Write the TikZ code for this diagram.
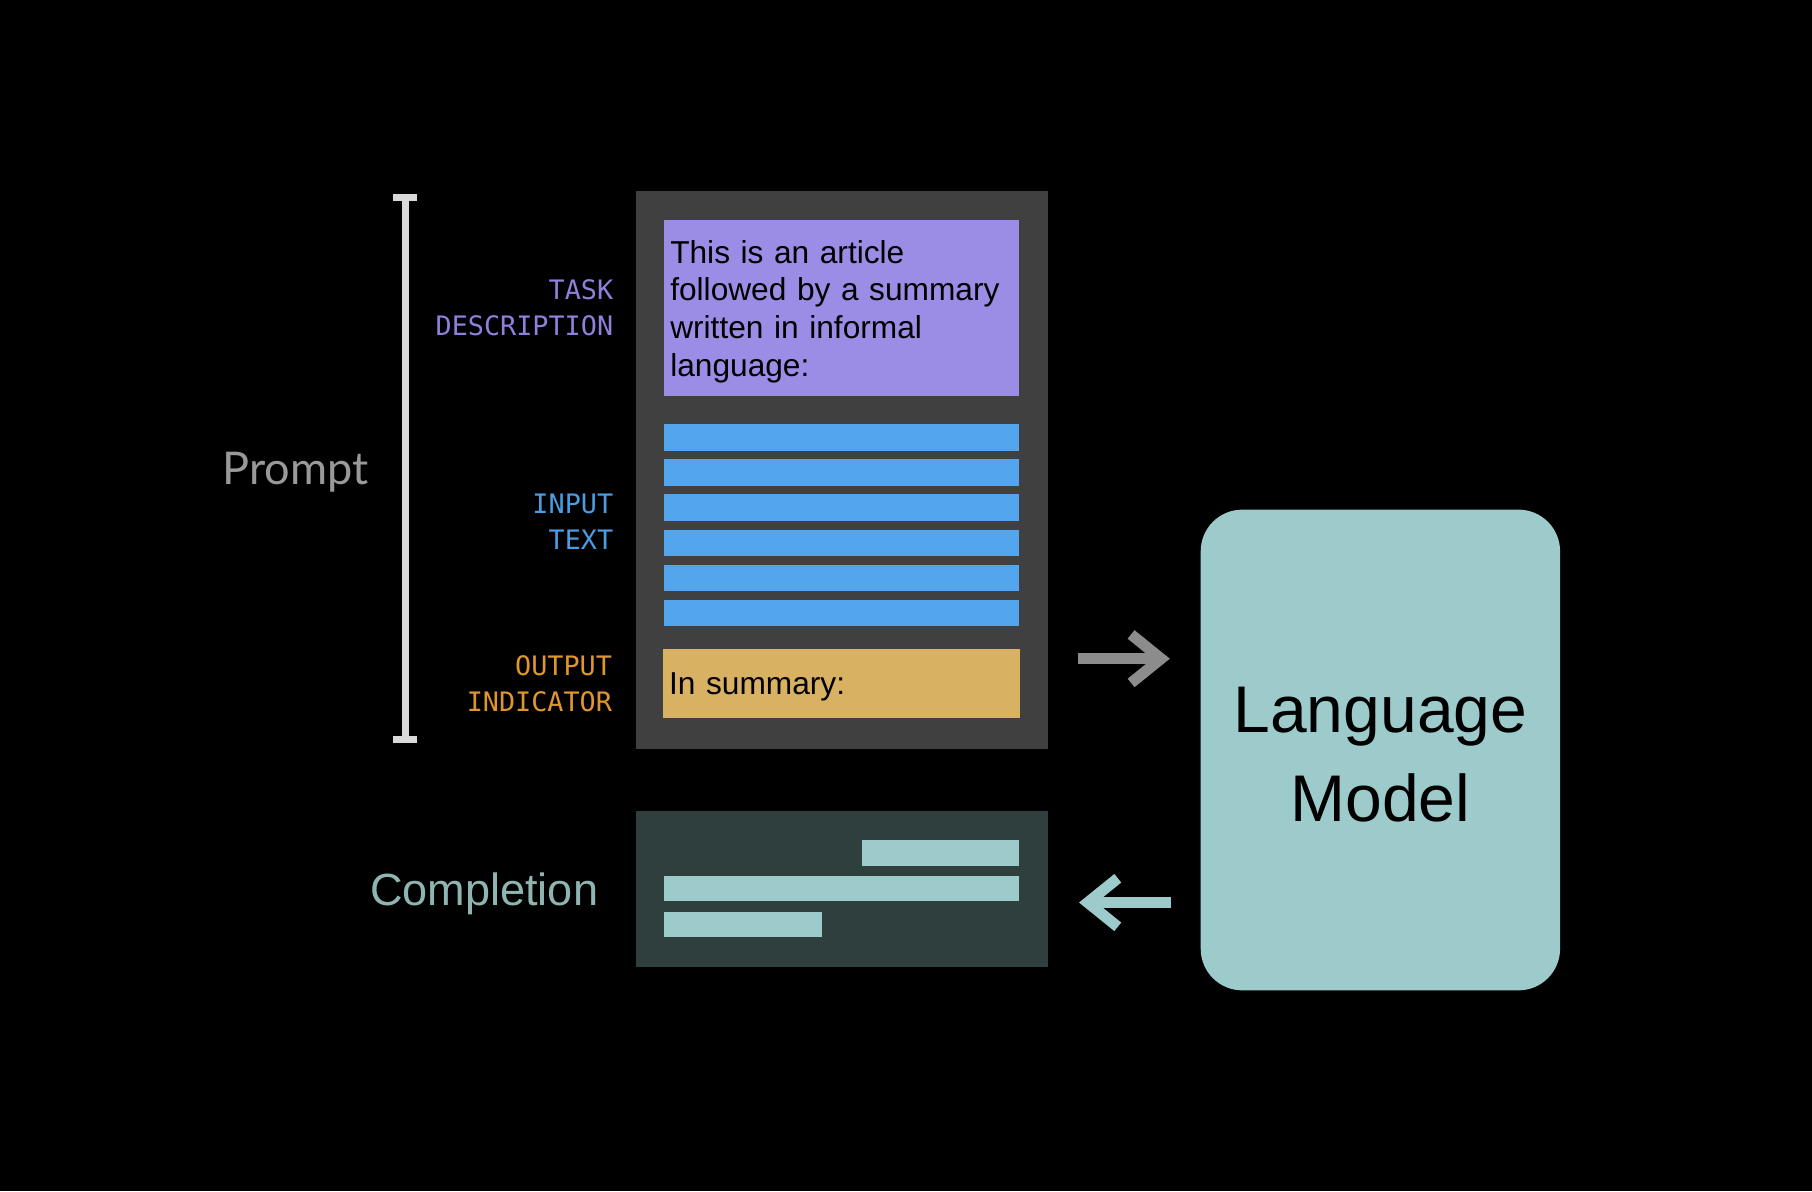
\documentclass[tikz,border=0pt]{standalone}
\usepackage{fontspec}
\setmainfont{Liberation Sans}
\newfontfamily\monofont{DejaVu Sans Mono}
\newfontfamily\promptfont{Lato}
\usepackage{tikz}
\usetikzlibrary{arrows.meta,positioning,calc}

\definecolor{boxgray}{HTML}{404040}
\definecolor{taskpurple}{HTML}{9B8DE5}
\definecolor{inblue}{HTML}{53A6EE}
\definecolor{outgold}{HTML}{D8B163}
\definecolor{compdark}{HTML}{2F3F3E}
\definecolor{lmteal}{HTML}{9DCBCB}
\definecolor{bracketgray}{HTML}{D9D9D9}
\definecolor{promptgray}{HTML}{999999}
\definecolor{tasklbl}{HTML}{8E80DB}
\definecolor{inlbl}{HTML}{4A9DE2}
\definecolor{outlbl}{HTML}{E0962E}
\definecolor{arrowgray}{HTML}{8C8C8C}
\definecolor{comptext}{HTML}{8FB5B2}

\begin{document}
\begin{tikzpicture}[
  panel/.style={rectangle, inner sep=0pt},
  textbox/.style={rectangle, inner xsep=0.05cm, inner ysep=0pt, text width=2.97cm, align=left, font=\fontsize{7.8}{9.3}\selectfont},
  bar/.style={rectangle, inner sep=0pt, minimum height=0.23cm},
  lbl/.style={inner sep=0pt, align=right, font=\monofont\fontsize{6.6}{8.8}\selectfont},
  side/.style={inner sep=0pt, text depth=0pt},
  arr/.style={-{Straight Barb[length=2.6mm, width=4.2mm]}, line width=2.7pt, shorten <=0.25cm, shorten >=0.26cm}
]
  \fill[black] (0,0) rectangle (15.68,-10.31);

  \node[panel, fill=boxgray, minimum width=3.57cm, minimum height=4.83cm] (prompt) at (7.285,-4.065) {};
  \node[textbox, fill=taskpurple, minimum height=1.53cm] (task) at (7.285,-2.665)
    {\rule{0pt}{7.4pt}This is an article\\followed by a summary\\written in informal\\language:};
  \foreach \i in {0,...,5}
    \node[bar, fill=inblue, minimum width=3.07cm] (in\i) at (7.285,{-3.785-0.304*\i}) {};
  \node[textbox, text width=2.99cm, text depth=0pt, fill=outgold, minimum height=0.59cm] (out) at (7.285,-5.915) {In summary:};

  \node[panel, fill=compdark, minimum width=3.57cm, minimum height=1.35cm] (completion) at (7.285,-7.695) {};
  \node[bar, fill=lmteal, minimum width=1.36cm, minimum height=0.22cm] (c1) at (8.14,-7.38) {};
  \node[bar, fill=lmteal, minimum width=3.07cm, minimum height=0.22cm] (c2) at (7.285,-7.69) {};
  \node[bar, fill=lmteal, minimum width=1.36cm, minimum height=0.22cm] (c3) at (6.43,-8.00) {};

  \node[panel, fill=lmteal, rounded corners=0.36cm, minimum width=3.11cm, minimum height=4.16cm,
    align=center, font=\fontsize{16.25}{21.9}\selectfont] (lm) at (11.945,-6.49) {\rule{0pt}{13.6pt}Language\\Model};

  \coordinate (brtop) at (3.505,-1.68);
  \coordinate (brbot) at (3.505,-6.43);
  \coordinate (brmid) at ($(brtop)!0.5!(brbot)$);
  \draw[bracketgray, line width=1.7pt, {Bar[width=2.1mm]}-{Bar[width=2.1mm]}] (brtop) -- (brbot);

  \coordinate (inmid) at ($(in0.north west)!0.5!(in5.south west)+(0,0.03)$);
  \node[lbl, text=tasklbl, left=0.43cm of task] {TASK\\DESCRIPTION};
  \node[lbl, text=inlbl, left=0.43cm of inmid] {INPUT\\TEXT};
  \node[lbl, text=outlbl, left=0.43cm of out] {OUTPUT\\INDICATOR};

  \node[side, text=promptgray, font=\promptfont\fontsize{11.1}{13}\selectfont, left=0.31cm of brmid] {Prompt};
  \node[side, text=comptext, font=\fontsize{11.1}{13}\selectfont, left=0.31cm of completion] {Completion};

  \draw[arr, arrowgray] ([yshift=-1.635cm]prompt.east) -- ([yshift=-1.635cm]prompt.east -| lm.west);
  \draw[arr, lmteal] ([yshift=-0.115cm]completion.east -| lm.west) -- ([yshift=-0.115cm]completion.east);
\end{tikzpicture}
\end{document}
